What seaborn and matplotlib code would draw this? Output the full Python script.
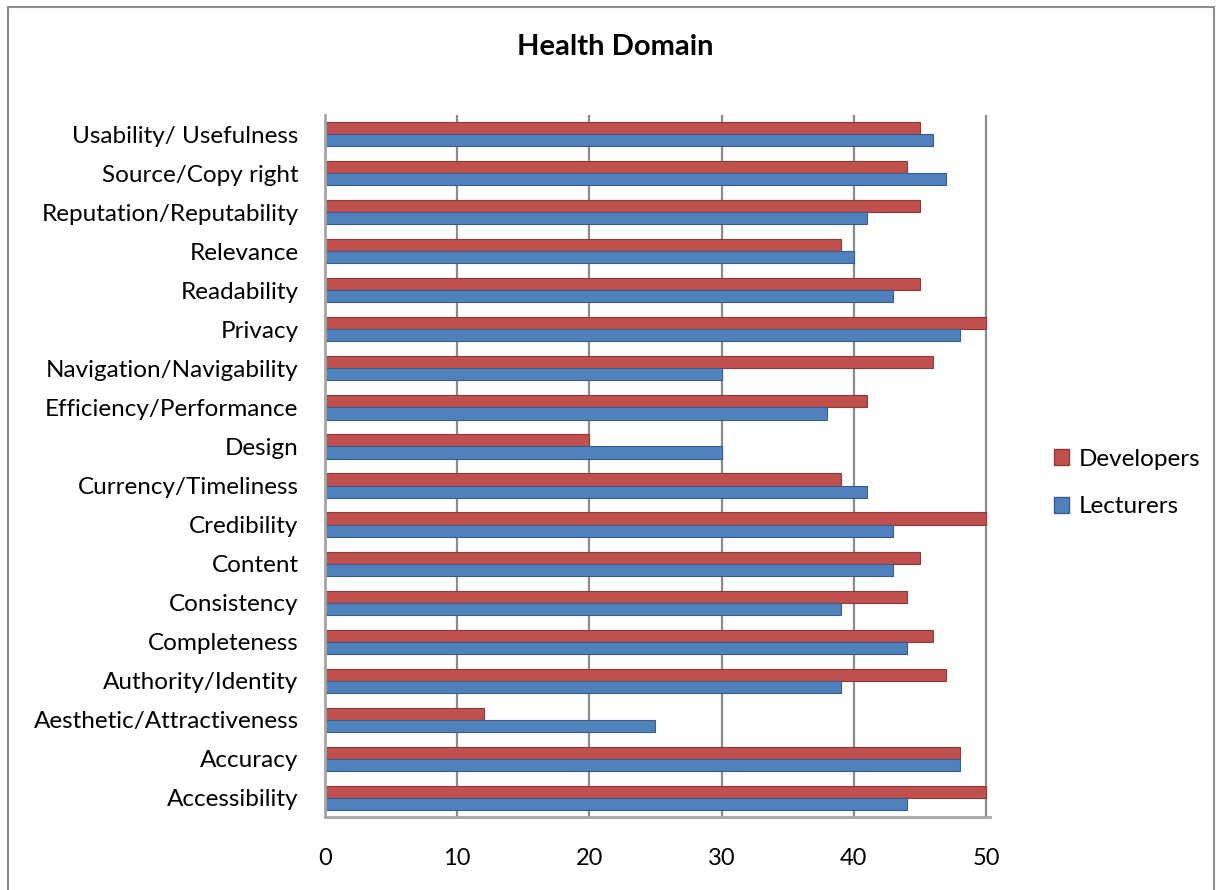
import matplotlib
matplotlib.use("Agg")
import matplotlib.pyplot as plt
import seaborn as sns
import pandas as pd
from matplotlib.patches import Rectangle

# Quality attributes, listed top to bottom as drawn
categories = [
    "Usability/ Usefulness", "Source/Copy right", "Reputation/Reputability",
    "Relevance", "Readability", "Privacy", "Navigation/Navigability",
    "Efficiency/Performance", "Design", "Currency/Timeliness", "Credibility",
    "Content", "Consistency", "Completeness", "Authority/Identity",
    "Aesthetic/Attractiveness", "Accuracy", "Accessibility",
]
developers = [45, 44, 45, 39, 45, 50, 46, 41, 20, 39, 50, 45, 44, 46, 47, 12, 48, 50]
lecturers = [46, 47, 41, 40, 43, 48, 30, 38, 30, 41, 43, 43, 39, 44, 39, 25, 48, 44]
series = ["Developers", "Lecturers"]
x_ticks = [0, 10, 20, 30, 40, 50]

df = pd.DataFrame({
    "Attribute": categories * 2,
    "Score": developers + lecturers,
    "Group": [series[0]] * len(categories) + [series[1]] * len(categories),
})

sns.set_theme(style="white")
plt.rcParams["font.family"] = ["Lato", "DejaVu Sans"]
plt.rcParams["text.color"] = "black"
plt.rcParams["xtick.color"] = "black"
plt.rcParams["ytick.color"] = "black"

red = "#C0504D"
blue = "#4F81BD"
palette = {"Developers": red, "Lecturers": blue}
edge = {red: "#8E3A38", blue: "#385D8A"}

fig = plt.figure(figsize=(12.2, 8.9), dpi=100)
ax = fig.add_axes([0.2664, 0.0815, 0.545, 0.7898])

sns.barplot(data=df, y="Attribute", x="Score", hue="Group", order=categories,
            hue_order=series, palette=palette, orient="h", width=0.62,
            saturation=1, ax=ax, legend=False)

# darker rims give the bars a slight bevelled look
for bar in ax.patches:
    fc = matplotlib.colors.to_hex(bar.get_facecolor()).upper()
    bar.set_edgecolor(edge.get(fc, "#555555"))
    bar.set_linewidth(0.8)

ax.set_xlim(0, 50.3)
ax.set_ylim(17.5, -0.5)
ax.set_xticks(x_ticks)
ax.set_xticklabels([str(t) for t in x_ticks], fontsize=17)
ax.tick_params(axis="y", labelsize=17.5, pad=19, length=0, labelcolor="black")
ax.tick_params(axis="x", pad=22, length=0, labelcolor="black")
ax.set_xlabel("")
ax.set_ylabel("")
ax.xaxis.grid(True, color="#8C8C8C", linewidth=1.6)
ax.set_axisbelow(True)
for side in ["top", "right"]:
    ax.spines[side].set_visible(False)
for side in ["left", "bottom"]:
    ax.spines[side].set_color("#A6A6A6")
    ax.spines[side].set_linewidth(2)

fig.text(615 / 1220, 1 - 47 / 890, "Health Domain", ha="center", va="center",
         fontsize=21, fontweight="bold", color="black")

# legend on the right
handles = [Rectangle((0, 0), 1, 1, facecolor=palette[s], edgecolor=edge[palette[s]]) for s in series]
fig.legend(handles, series, loc="center left", bbox_to_anchor=(1042 / 1220, 1 - 483 / 890),
           frameon=False, fontsize=17.5, handlelength=0.6, handleheight=0.6,
           handletextpad=0.4, labelspacing=1.1, borderpad=0, labelcolor="black")

# chart border
fig.patches.append(Rectangle((8 / 1220, -0.01), 1206 / 1220, 1 - 7 / 890 + 0.01,
                             transform=fig.transFigure, fill=False,
                             edgecolor="#8C8C8C", linewidth=1.5))

fig.savefig("out.png", dpi=100)
